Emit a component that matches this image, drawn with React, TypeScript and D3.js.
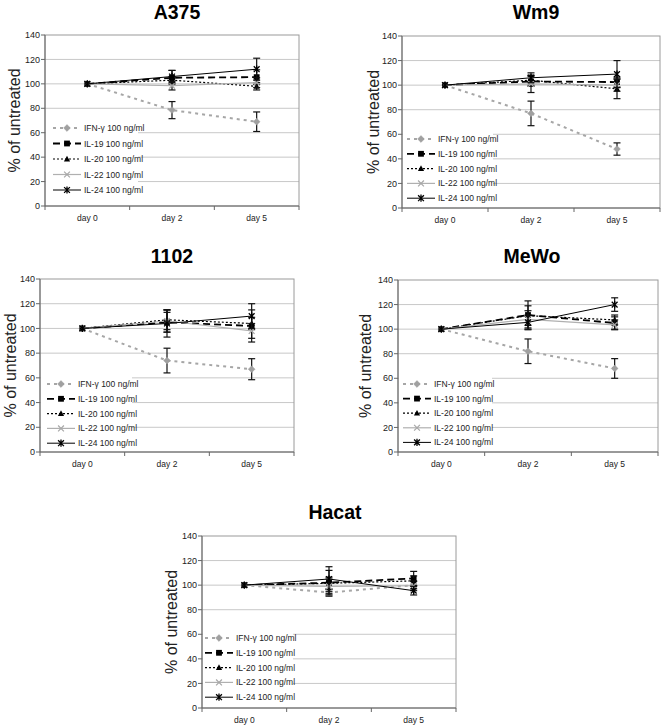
import React from "react";
import * as d3 from "d3";

// ---- data ----
const days = ["day 0", "day 2", "day 5"];
const seriesNames = ["IFN-γ 100 ng/ml", "IL-19 100 ng/ml", "IL-20 100 ng/ml", "IL-22 100 ng/ml", "IL-24 100 ng/ml"];
const yTicks = [0, 20, 40, 60, 80, 100, 120, 140];

const a375Values = [[100, 78.5, 69], [100, 105, 105.5], [100, 103, 98], [100, 98.5, 101], [100, 106, 112]];
const a375Errors = [[0, 7, 8], [0, 6, 6], [0, 3, 3], [0, 3.5, 4], [0, 5, 9]];

const wm9Values = [[100, 77, 48], [100, 103, 102.5], [100, 104, 97], [100, 101, 100], [100, 106, 109]];
const wm9Errors = [[0, 10, 5], [0, 4, 4], [0, 4, 8], [0, 7, 5], [0, 4, 11]];

const c1102Values = [[100, 74, 67], [100, 105, 102], [100, 107, 104], [100, 106, 98], [100, 104, 110]];
const c1102Errors = [[0, 10, 8.5], [0, 8, 13], [0, 8, 5], [0, 9, 6], [0, 11, 10]];

const meWoValues = [[100, 82, 68], [100, 111.5, 105], [100, 111, 107.5], [100, 108, 103.5], [100, 105.5, 120]];
const meWoErrors = [[0, 10, 8], [0, 11.5, 5], [0, 8, 4], [0, 7, 4], [0, 6, 5.5]];

const hacatValues = [[100, 94, 100], [100, 102, 105.5], [100, 101.5, 103.5], [100, 99, 99.5], [100, 105, 95.5]];
const hacatErrors = [[0, 3, 3], [0, 10, 5.7], [0, 5, 4], [0, 6, 4], [0, 10, 3.5]];

// ---- styling / layout ----
const seriesStyles = [
  { stroke: "#a6a6a6", width: 2, dash: "3,4", marker: "diamond", color: "#a0a0a0" },
  { stroke: "#000", width: 1.8, dash: "7,4", marker: "square", color: "#000" },
  { stroke: "#000", width: 1.2, dash: "2,2", marker: "triangle", color: "#000" },
  { stroke: "#b0b0b0", width: 1.2, dash: null, marker: "x", color: "#a8a8a8" },
  { stroke: "#000", width: 1, dash: null, marker: "star", color: "#000" },
];

const panels = [
  { title: "A375", values: a375Values, errors: a375Errors, left: 45, right: 299, top: 35, bottom: 206, titleX: 177, titleY: 19, yLabelX: 14, legendTop: 128, legendStep: 15.5, legendX: 53, boxRight: 138 },
  { title: "Wm9", values: wm9Values, errors: wm9Errors, left: 402, right: 660, top: 36, bottom: 208, titleX: 536, titleY: 19, yLabelX: 373, legendTop: 139, legendStep: 14.8, legendX: 407, boxRight: 493 },
  { title: "1102", values: c1102Values, errors: c1102Errors, left: 40, right: 294, top: 279, bottom: 452, titleX: 172, titleY: 263, yLabelX: 10, legendTop: 384, legendStep: 14.8, legendX: 47, boxRight: 132 },
  { title: "MeWo", values: meWoValues, errors: meWoErrors, left: 398, right: 658, top: 280, bottom: 452, titleX: 532, titleY: 263, yLabelX: 365, legendTop: 384, legendStep: 14.6, legendX: 403, boxRight: 492 },
  { title: "Hacat", values: hacatValues, errors: hacatErrors, left: 202, right: 456, top: 536, bottom: 708, titleX: 335, titleY: 519, yLabelX: 171, legendTop: 638, legendStep: 14.8, legendX: 205, boxRight: 293 },
];

const FONT = "Arial, 'Liberation Sans', sans-serif";

function Marker({ type, x, y, color }: { type: string; x: number; y: number; color: string }) {
  const s = 2.9;
  if (type === "diamond")
    return <path d={`M${x},${y - 3.4}L${x + 3.4},${y}L${x},${y + 3.4}L${x - 3.4},${y}Z`} fill={color} stroke={color} strokeWidth={0.5} />;
  if (type === "square") return <rect x={x - s} y={y - s} width={2 * s} height={2 * s} fill={color} />;
  if (type === "triangle")
    return <path d={`M${x},${y - 3.3}L${x + 3.1},${y + 2.4}L${x - 3.1},${y + 2.4}Z`} fill={color} />;
  if (type === "x")
    return <path d={`M${x - s},${y - s}L${x + s},${y + s}M${x - s},${y + s}L${x + s},${y - s}`} stroke={color} strokeWidth={1.2} fill="none" />;
  // star (asterisk)
  return (
    <path
      d={`M${x - s},${y - s}L${x + s},${y + s}M${x - s},${y + s}L${x + s},${y - s}M${x},${y - 3.6}L${x},${y + 3.6}`}
      stroke={color}
      strokeWidth={1.3}
      fill="none"
    />
  );
}

function Panel({ p }: { p: (typeof panels)[number] }) {
  const x = d3.scaleBand<string>().domain(days).range([p.left, p.right]).padding(0);
  const cx = (d: string) => (x(d) as number) + x.bandwidth() / 2;
  const y = d3.scaleLinear().domain([0, 140]).range([p.bottom, p.top]);
  const line = d3
    .line<number>()
    .x((_, i) => cx(days[i]))
    .y((v) => y(v));
  const boundaries = [...days.map((d) => x(d) as number), p.right];

  return (
    <g>
      <text x={p.titleX} y={p.titleY} textAnchor="middle" fontFamily={FONT} fontWeight="bold" fontSize={19.5} fill="#000">
        {p.title}
      </text>
      {/* grid */}
      {yTicks.slice(1, -1).map((t) => (
        <line key={t} x1={p.left} x2={p.right} y1={y(t)} y2={y(t)} stroke="#c8c8c8" strokeWidth={1} />
      ))}
      <rect x={p.left} y={p.top} width={p.right - p.left} height={p.bottom - p.top} fill="none" stroke="#9a9a9a" strokeWidth={1} />
      {/* axes */}
      <line x1={p.left} x2={p.left} y1={p.top} y2={p.bottom} stroke="#666" strokeWidth={1} />
      <line x1={p.left} x2={p.right} y1={p.bottom} y2={p.bottom} stroke="#666" strokeWidth={1} />
      {yTicks.map((t) => (
        <g key={t}>
          <line x1={p.left - 4} x2={p.left} y1={y(t)} y2={y(t)} stroke="#666" />
          <text x={p.left - 5} y={y(t) + 3.2} textAnchor="end" fontFamily={FONT} fontSize={9} fill="#222">
            {t}
          </text>
        </g>
      ))}
      {boundaries.map((b, i) => (
        <line key={i} x1={b} x2={b} y1={p.bottom} y2={p.bottom + 4} stroke="#666" />
      ))}
      {days.map((d) => (
        <text key={d} x={cx(d)} y={p.bottom + 15} textAnchor="middle" fontFamily={FONT} fontSize={8.5} fill="#222">
          {d}
        </text>
      ))}
      <text
        transform={`translate(${p.yLabelX},${(p.top + p.bottom) / 2}) rotate(-90)`}
        textAnchor="middle"
        dominantBaseline="central"
        fontFamily={FONT}
        fontSize={16}
        fill="#222"
      >
        % of untreated
      </text>
      {/* series */}
      {p.values.map((vals, si) => {
        const st = seriesStyles[si];
        return (
          <g key={si}>
            <path d={line(vals) || ""} fill="none" stroke={st.stroke} strokeWidth={st.width} strokeDasharray={st.dash || undefined} />
            {vals.map((v, i) => {
              const e = p.errors[si][i];
              if (!e) return null;
              const xx = cx(days[i]);
              return (
                <g key={i} stroke="#111" strokeWidth={1.2}>
                  <line x1={xx} x2={xx} y1={y(v + e)} y2={y(v - e)} />
                  <line x1={xx - 3.5} x2={xx + 3.5} y1={y(v + e)} y2={y(v + e)} />
                  <line x1={xx - 3.5} x2={xx + 3.5} y1={y(v - e)} y2={y(v - e)} />
                </g>
              );
            })}
            {vals.map((v, i) => (
              <Marker key={"m" + i} type={st.marker} x={cx(days[i])} y={y(v)} color={st.color} />
            ))}
          </g>
        );
      })}
      {/* legend */}
      <rect
        x={p.left + 1}
        y={p.legendTop - 8}
        width={p.boxRight - p.left - 1}
        height={p.bottom - (p.legendTop - 8) - 1}
        fill="#fff"
      />
      {seriesNames.map((name, si) => {
        const st = seriesStyles[si];
        const ly = p.legendTop + si * p.legendStep;
        return (
          <g key={name}>
            <line x1={p.legendX} x2={p.legendX + 28} y1={ly} y2={ly} stroke={st.stroke} strokeWidth={st.width} strokeDasharray={st.dash || undefined} />
            <Marker type={st.marker} x={p.legendX + 14} y={ly} color={st.color} />
            <text x={p.legendX + 31} y={ly + 3} fontFamily={FONT} fontSize={8.5} fill="#222">
              {name}
            </text>
          </g>
        );
      })}
    </g>
  );
}

export default function App() {
  return (
    <svg width={661} height={726} style={{ position: "absolute", left: 0, top: 0, background: "#fff" }}>
      <rect width={661} height={726} fill="#fff" />
      {panels.map((p) => (
        <Panel key={p.title} p={p} />
      ))}
    </svg>
  );
}
